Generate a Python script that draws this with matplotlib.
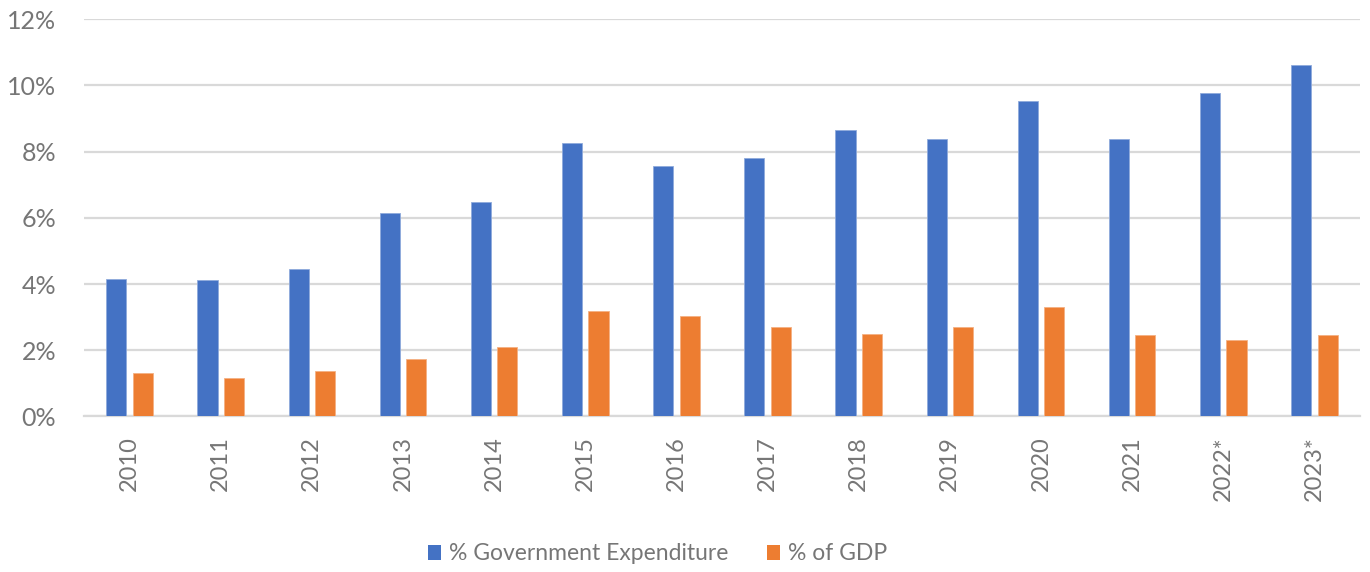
import matplotlib
matplotlib.use("Agg")
import matplotlib.pyplot as plt
import numpy as np
from matplotlib.patches import Patch

years = ["2010", "2011", "2012", "2013", "2014", "2015", "2016",
         "2017", "2018", "2019", "2020", "2021", "2022*", "2023*"]
gov_expenditure = [4.14, 4.11, 4.46, 6.16, 6.49, 8.27, 7.58,
                   7.82, 8.66, 8.38, 9.54, 8.38, 9.78, 10.61]
gdp_share = [1.31, 1.17, 1.38, 1.74, 2.10, 3.19, 3.04,
             2.71, 2.50, 2.71, 3.31, 2.46, 2.31, 2.46]

blue = "#4472C4"
orange = "#ED7D31"
grey_text = "#767676"
grid_col = "#D9D9D9"

plt.rcParams["font.family"] = ["Lato", "DejaVu Sans"]

fig = plt.figure(figsize=(13.7, 5.72), dpi=100)
ax = fig.add_axes([0.0613, 0.2719, 0.9314, 0.6944])

x = np.arange(len(years))
w = 0.222
off = 0.145
ax.bar(x - off, gov_expenditure, w, color=blue, edgecolor="#8FAADC", linewidth=0.6, zorder=3)
ax.bar(x + off, gdp_share, w, color=orange, edgecolor="#F4B183", linewidth=0.6, zorder=3)

ax.set_xlim(-0.5, len(years) - 0.5)
ax.set_ylim(0, 12)
ax.set_yticks(range(0, 13, 2))
ax.set_yticklabels([f"{v}%" for v in range(0, 13, 2)])
ax.set_xticks(x)
ax.set_xticklabels(years, rotation=90)

ax.grid(axis="y", color=grid_col, linewidth=1.6, zorder=0)
for s in ["top", "right", "left"]:
    ax.spines[s].set_visible(False)
ax.spines["bottom"].set_color(grid_col)
ax.spines["bottom"].set_linewidth(1.6)
ax.spines["bottom"].set_zorder(1)

ax.tick_params(axis="both", length=0, labelsize=17, labelcolor=grey_text)
ax.tick_params(axis="y", labelsize=18, pad=20)
ax.tick_params(axis="x", pad=14)

handles = [Patch(facecolor=blue, edgecolor="none", label="% Government Expenditure"),
           Patch(facecolor=orange, edgecolor="none", label="% of GDP")]
fig.legend(handles=handles, loc="center", bbox_to_anchor=(0.48, 1 - 554 / 572),
           ncol=2, frameon=False, fontsize=16.5, labelcolor=grey_text,
           handlelength=0.6, handleheight=0.6, handletextpad=0.35, columnspacing=1.65)

fig.savefig("out.png", dpi=100)
